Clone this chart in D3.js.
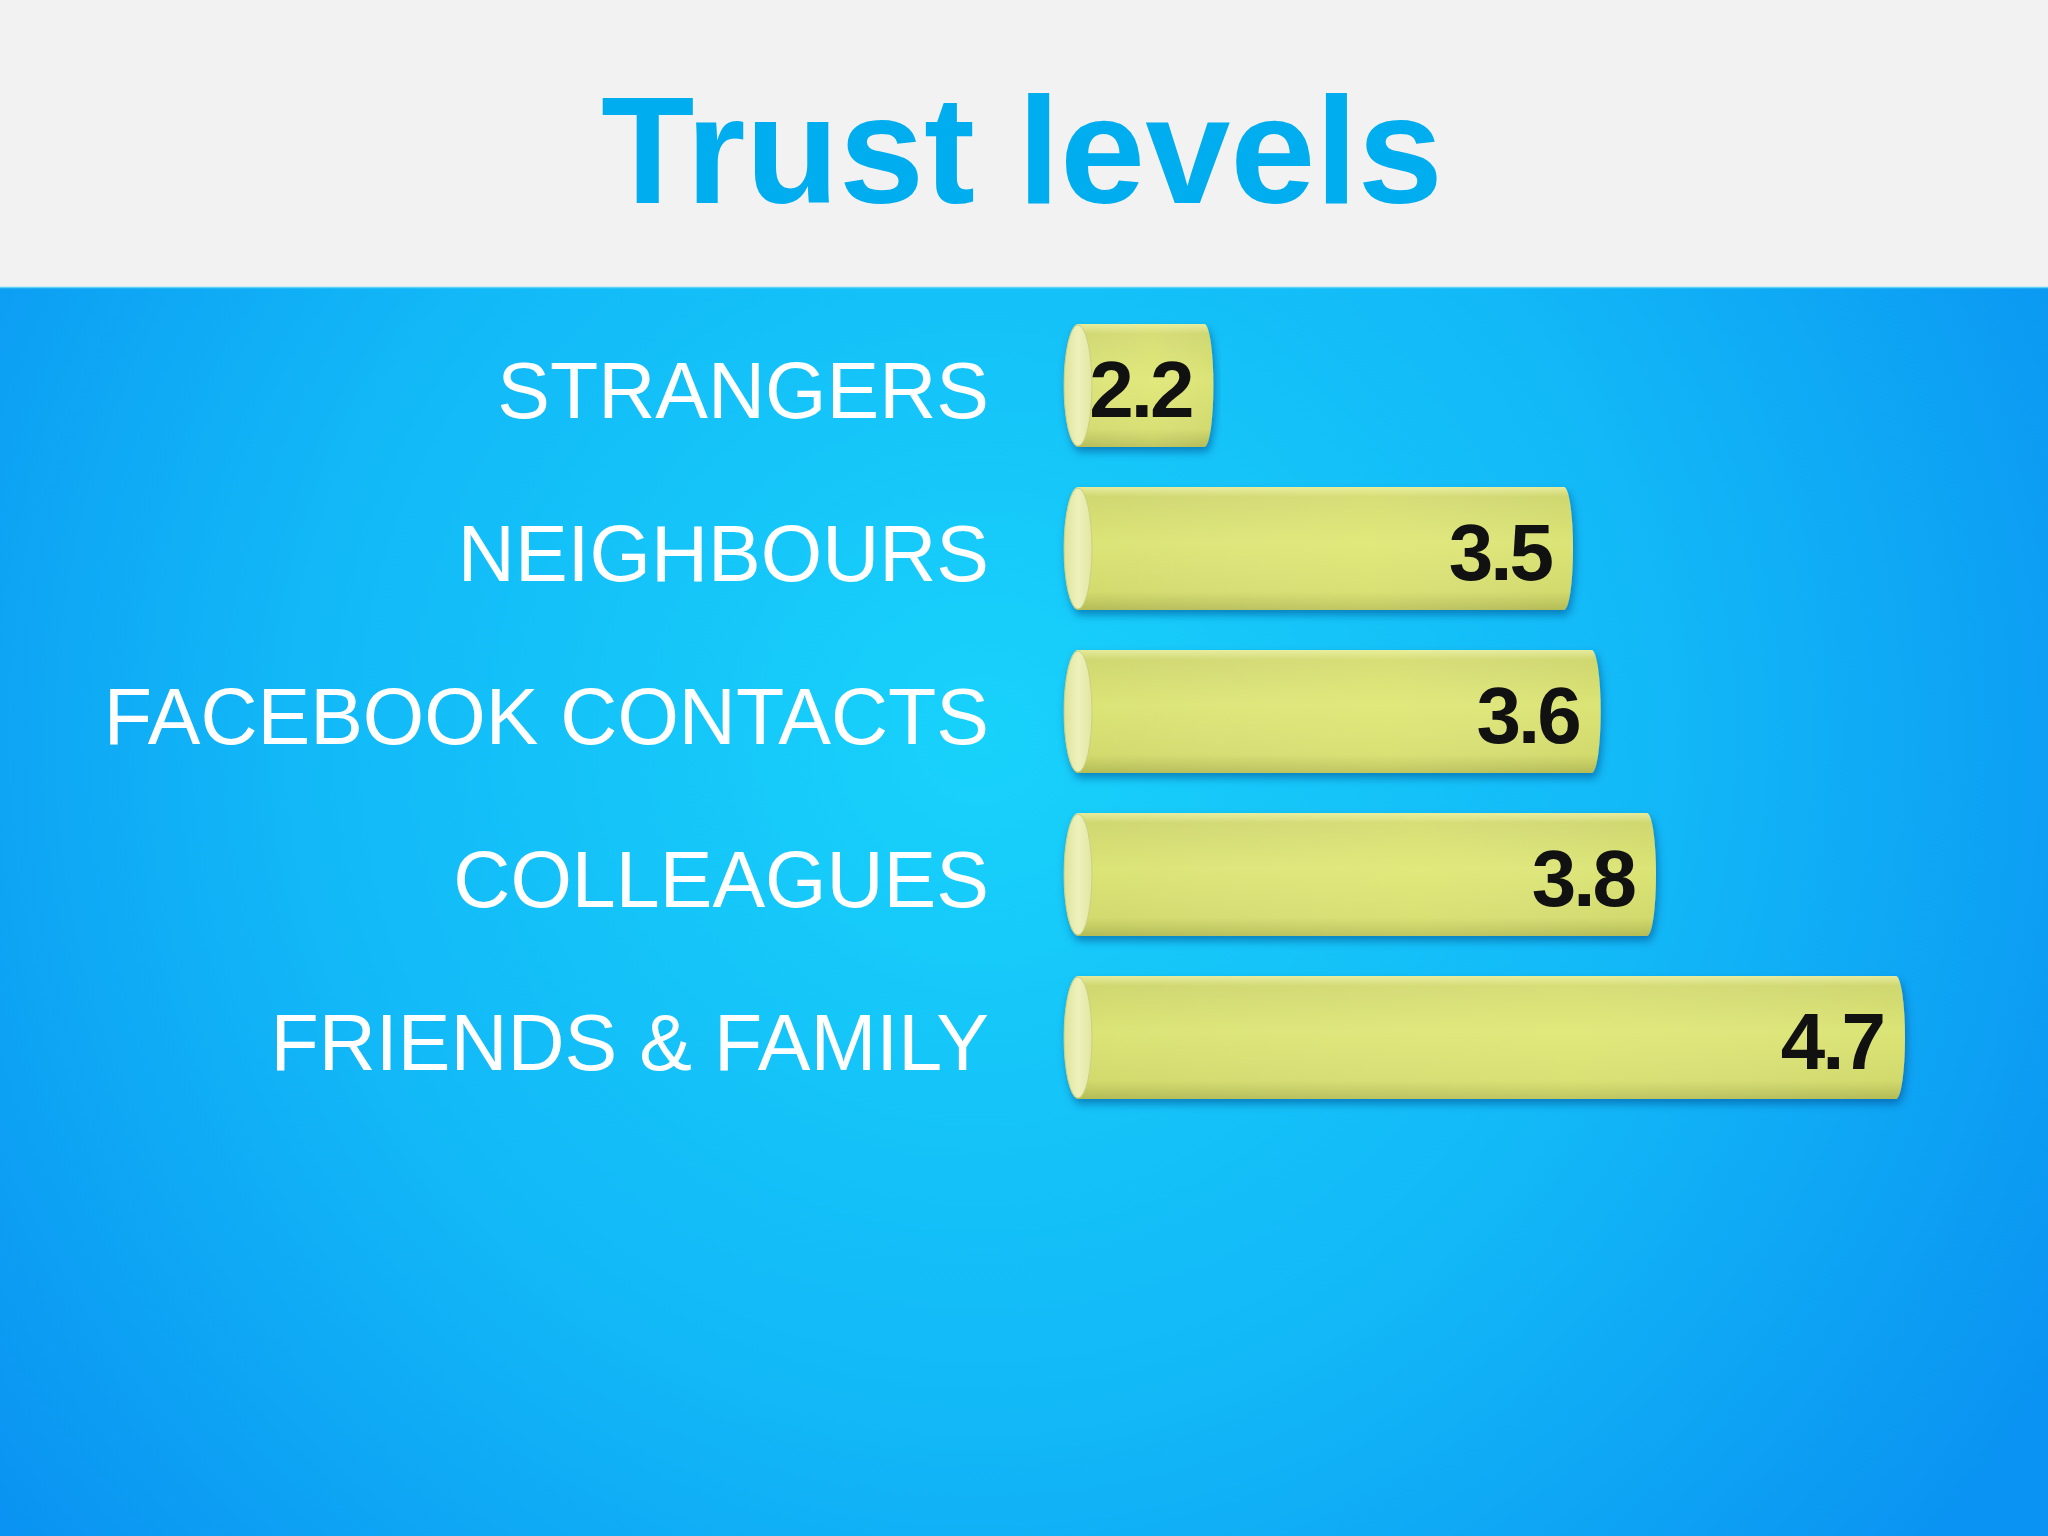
<!DOCTYPE html>
<html>
<head>
<meta charset="utf-8">
<script src="https://cdn.jsdelivr.net/npm/d3@7"></script>
<style>
  html, body { margin: 0; padding: 0; background: #f2f2f2; }
  svg { display: block; }
</style>
</head>
<body>
<script>
// chart data
const categories = ['STRANGERS', 'NEIGHBOURS', 'FACEBOOK CONTACTS', 'COLLEAGUES', 'FRIENDS & FAMILY']
const trustValues = [2.2, 3.5, 3.6, 3.8, 4.7]
const valueLabels = ['2.2', '3.5', '3.6', '3.8', '4.7']
const title = 'Trust levels'

const width = 2048
const height = 1536
const bandTop = 287
const font = '"Liberation Sans", Arial, sans-serif'

const svg = d3.select('body').append('svg')
	.attr('width', width)
	.attr('height', height)

const defs = svg.append('defs')

// blue background, brighter in the middle
const bg = defs.append('radialGradient')
	.attr('id', 'bg')
	.attr('gradientUnits', 'userSpaceOnUse')
	.attr('cx', 980).attr('cy', 740).attr('r', 1250)
bg.append('stop').attr('offset', 0).attr('stop-color', '#18d2fb')
bg.append('stop').attr('offset', 0.55).attr('stop-color', '#12b8f7')
bg.append('stop').attr('offset', 1).attr('stop-color', '#0a93f2')

// cylinder body, shaded top to bottom
const body = defs.append('linearGradient')
	.attr('id', 'body').attr('x1', 0).attr('y1', 0).attr('x2', 0).attr('y2', 1)
body.append('stop').attr('offset', 0).attr('stop-color', '#e6eb9c')
body.append('stop').attr('offset', 0.08).attr('stop-color', '#cfd76e')
body.append('stop').attr('offset', 0.45).attr('stop-color', '#dbe474')
body.append('stop').attr('offset', 0.85).attr('stop-color', '#d2da6c')
body.append('stop').attr('offset', 1).attr('stop-color', '#b3bb55')

const sheen = defs.append('linearGradient')
	.attr('id', 'sheen').attr('x1', 0).attr('y1', 0).attr('x2', 1).attr('y2', 0)
sheen.append('stop').attr('offset', 0).attr('stop-color', '#ffffff').attr('stop-opacity', 0)
sheen.append('stop').attr('offset', 0.6).attr('stop-color', '#fbff9a').attr('stop-opacity', 0.18)
sheen.append('stop').attr('offset', 1).attr('stop-color', '#ffffff').attr('stop-opacity', 0)

const cap = defs.append('linearGradient')
	.attr('id', 'cap').attr('x1', 0).attr('y1', 0).attr('x2', 1).attr('y2', 0)
cap.append('stop').attr('offset', 0).attr('stop-color', '#dfe39a')
cap.append('stop').attr('offset', 0.5).attr('stop-color', '#eef1bb')
cap.append('stop').attr('offset', 1).attr('stop-color', '#e2e6a2')

const shadow = defs.append('filter')
	.attr('id', 'shadow')
	.attr('x', '-5%').attr('y', '-20%').attr('width', '110%').attr('height', '150%')
shadow.append('feDropShadow')
	.attr('dx', 2).attr('dy', 5).attr('stdDeviation', 4)
	.attr('flood-color', '#064a8a').attr('flood-opacity', 0.55)

// backgrounds
svg.append('rect')
	.attr('x', 0).attr('y', 0).attr('width', width).attr('height', bandTop)
	.attr('fill', '#f2f2f2')
svg.append('rect')
	.attr('x', 0).attr('y', bandTop).attr('width', width).attr('height', height - bandTop)
	.attr('fill', 'url(#bg)')
svg.append('line')
	.attr('x1', 0).attr('x2', width).attr('y1', bandTop + 0.5).attr('y2', bandTop + 0.5)
	.attr('stroke', '#5fd3f6').attr('stroke-width', 1.5)

svg.append('text')
	.attr('x', 1022).attr('y', 203)
	.attr('text-anchor', 'middle')
	.attr('font-family', font)
	.attr('font-weight', 'bold')
	.attr('font-size', 153)
	.attr('fill', '#00aeef')
	.text(title)

// scales
const x = d3.scaleLinear().domain([1.66, 4.7]).range([1064, 1905])
const y = d3.scaleBand().domain(categories).range([284, 1139]).padding(0.245)

const data = categories.map((c, i) => ({ cat: c, value: trustValues[i], label: valueLabels[i] }))

const rxLeft = 14
const rxRight = 9

const rows = svg.selectAll('.row')
	.data(data)
	.enter()
	.append('g')
	.attr('class', 'row')
	.attr('transform', d => `translate(0, ${y(d.cat)})`)

const h = y.bandwidth()

const bodyPath = d => {
	const x0 = x.range()[0] + rxLeft
	const x1 = x(d.value) - rxRight
	return `M${x0},0 L${x1},0 A${rxRight},${h / 2} 0 0 1 ${x1},${h} L${x0},${h} A${rxLeft},${h / 2} 0 0 1 ${x0},0 Z`
}

rows.append('path')
	.attr('d', bodyPath)
	.attr('fill', 'url(#body)')
	.attr('filter', 'url(#shadow)')

rows.append('path')
	.attr('d', bodyPath)
	.attr('fill', 'url(#sheen)')

// end face of the cylinder
rows.append('ellipse')
	.attr('cx', x.range()[0] + rxLeft)
	.attr('cy', h / 2)
	.attr('rx', rxLeft)
	.attr('ry', h / 2 - 1)
	.attr('fill', 'url(#cap)')
	.attr('stroke', '#c9cf82')
	.attr('stroke-width', 1)

rows.append('text')
	.attr('x', 989)
	.attr('y', h / 2)
	.attr('dy', '0.41em')
	.attr('text-anchor', 'end')
	.attr('font-family', font)
	.attr('font-size', 79)
	.attr('fill', '#ffffff')
	.text(d => d.cat)

rows.append('text')
	.attr('x', d => x(d.value) - 22)
	.attr('y', h / 2)
	.attr('dy', '0.39em')
	.attr('text-anchor', 'end')
	.attr('font-family', font)
	.attr('font-weight', 'bold')
	.attr('font-size', 80)
	.attr('letter-spacing', -3)
	.attr('fill', '#111111')
	.text(d => d.label)
</script>
</body>
</html>
